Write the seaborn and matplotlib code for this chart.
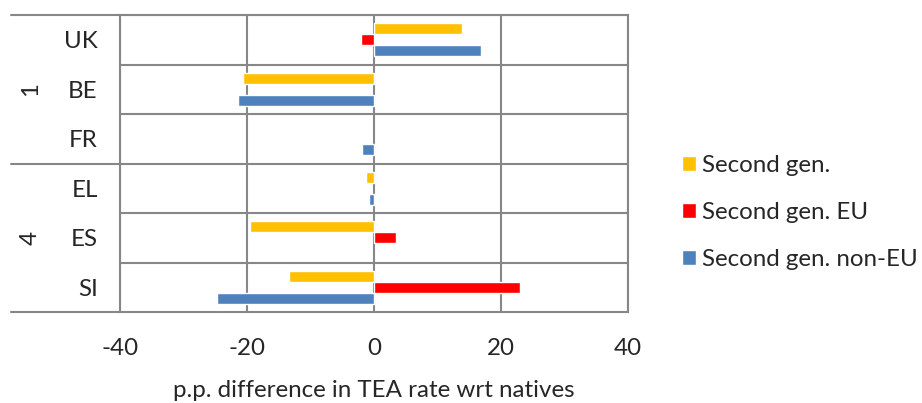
import numpy as np
import pandas as pd
import seaborn as sns
import matplotlib
matplotlib.use("Agg")
import matplotlib.pyplot as plt

# ---------------------------------------- Data ---------------------------------------- #
countries = ["UK", "BE", "FR", "EL", "ES", "SI"]
groups = ["1", "1", "1", "4", "4", "4"]
series = ["Second gen.", "Second gen. EU", "Second gen. non-EU"]
second_gen = [13.9, -20.6, np.nan, -1.2, -19.6, -13.4]
second_gen_eu = [-2.0, np.nan, np.nan, np.nan, 3.4, 23.0]
second_gen_non_eu = [16.9, -21.4, -1.9, -0.8, np.nan, -24.8]
x_ticks = [-40, -20, 0, 20, 40]

colors = ["#FFC000", "#FF0000", "#4F81BD"]
grid_color = "#878787"
font_size = 17.4


def main():
    sns.set_style("white")
    plt.rcParams["font.family"] = ["Lato", "DejaVu Sans"]

    df = pd.DataFrame({
        "country": countries * 3,
        "series": np.repeat(series, len(countries)),
        "value": second_gen + second_gen_eu + second_gen_non_eu,
    })

    fig = plt.figure(figsize=(9.22, 4.03), dpi=100)
    ax = fig.add_axes([120 / 922, 1 - 312 / 403, 508 / 922, 297 / 403])

    sns.barplot(data=df, x="value", y="country", hue="series", order=countries,
                hue_order=series, palette=colors, orient="h", width=0.67, gap=0,
                saturation=1, errorbar=None, ax=ax)

    # Axis limits and grid
    ax.set_xlim(x_ticks[0], x_ticks[-1])
    ax.set_ylim(len(countries) - 0.5, -0.5)
    ax.set_xticks(x_ticks)
    ax.set_xticklabels([str(t) for t in x_ticks])
    ax.set_yticks(np.arange(len(countries)) - 0.5, minor=True)
    ax.set_axisbelow(True)
    ax.grid(True, which="major", axis="x", color=grid_color, linewidth=1.5)
    ax.grid(True, which="minor", axis="y", color=grid_color, linewidth=1.5)
    ax.grid(False, which="major", axis="y")
    for s in ax.spines.values():
        s.set_color(grid_color)
        s.set_linewidth(1.5)

    ax.tick_params(axis="both", which="both", length=0, labelsize=font_size)
    ax.tick_params(axis="x", pad=19)
    ax.tick_params(axis="y", pad=16)
    ax.set_ylabel(None)
    ax.set_xlabel("p.p. difference in TEA rate wrt natives", fontsize=font_size, labelpad=15)

    # Group labels and separator lines reaching into the label area
    names = list(dict.fromkeys(groups))
    start = 0
    boundaries = [-0.5]
    for g in names:
        n = groups.count(g)
        mid = start + (n - 1) / 2
        ax.text(-0.177, mid, g, transform=ax.get_yaxis_transform(), rotation=90,
                ha="center", va="center", fontsize=font_size)
        start += n
        boundaries.append(start - 0.5)
    for b in boundaries:
        ax.plot([-0.215, 0], [b, b], transform=ax.get_yaxis_transform(),
                color=grid_color, linewidth=1.5, clip_on=False)

    # Legend
    handles, labels = ax.get_legend_handles_labels()
    ax.legend(handles, labels, loc="center left", bbox_to_anchor=(1.106, 0.335),
              frameon=False, fontsize=font_size, handlelength=0.6, handleheight=0.6,
              handletextpad=0.25, labelspacing=1.08, borderaxespad=0, borderpad=0)

    plt.savefig("out.png", dpi=100)


main()
